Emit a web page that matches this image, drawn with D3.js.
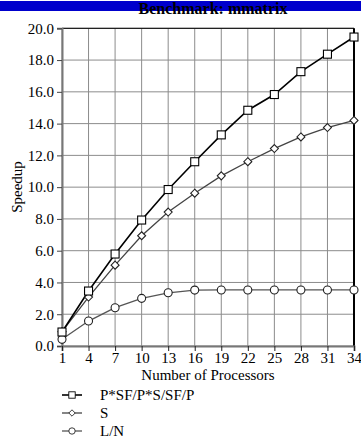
<!DOCTYPE html>
<html><head><meta charset="utf-8">
<script src="https://cdn.jsdelivr.net/npm/d3@7"></script>
<style>body{margin:0;background:#fff}svg{display:block}text{font-family:"Liberation Serif","Times New Roman",serif;fill:#000}</style>
</head><body>
<script>
const processors = [1,4,7,10,13,16,19,22,25,28,31,34];
const yTicks = [0,2,4,6,8,10,12,14,16,18,20];
const seriesNames = ["P*SF/P*S/SF/P","S","L/N"];
const valuesPSF = [0.88,3.46,5.79,7.93,9.85,11.6,13.29,14.84,15.83,17.27,18.37,19.45];
const valuesS   = [0.9,3.08,5.09,6.94,8.43,9.62,10.71,11.6,12.43,13.16,13.75,14.2];
const valuesLN  = [0.42,1.57,2.41,3.0,3.35,3.52,3.53,3.53,3.53,3.53,3.53,3.53];

const W=361,H=443;
const svg=d3.select("body").append("svg").attr("width",W).attr("height",H);
const x=d3.scaleLinear().domain([1,34]).range([62,354]);
const y=d3.scaleLinear().domain([0,20]).range([346,28.3]);

// title band
svg.append("rect").attr("x",0).attr("y",1).attr("width",W).attr("height",10).attr("fill","#0000cc");
svg.append("text").attr("x",213).attr("y",14).attr("text-anchor","middle")
  .attr("font-size",16).attr("font-weight","bold").text("Benchmark: mmatrix");

// grid
const g=svg.append("g");
g.selectAll("line.h").data(yTicks).join("line")
  .attr("x1",x(1)).attr("x2",x(34)).attr("y1",d=>y(d)).attr("y2",d=>y(d))
  .attr("stroke","#8c8c8c").attr("stroke-width",1);
g.selectAll("line.v").data(processors).join("line")
  .attr("x1",d=>x(d)).attr("x2",d=>x(d)).attr("y1",y(0)).attr("y2",y(20))
  .attr("stroke","#8c8c8c").attr("stroke-width",1);

// frame
svg.append("line").attr("x1",x(1)).attr("x2",x(34)).attr("y1",y(20)).attr("y2",y(20)).attr("stroke","#000").attr("stroke-width",1);
svg.append("line").attr("x1",x(34)).attr("x2",x(34)).attr("y1",y(20)).attr("y2",y(0)).attr("stroke","#000").attr("stroke-width",2);

// axes
const yAxis=d3.axisLeft(y).tickValues(yTicks).tickFormat(d3.format(".1f")).tickSize(5).tickPadding(3);
const ya=svg.append("g").attr("transform",`translate(${x(1)},0)`).call(yAxis);
ya.select(".domain").attr("stroke","#777").attr("stroke-width",2);
ya.selectAll(".tick line").attr("stroke","#444");
ya.selectAll("text").attr("font-size",15).attr("font-family","Liberation Serif, serif").attr("fill","#000");

const xAxis=d3.axisBottom(x).tickValues(processors).tickFormat(d3.format("d")).tickSize(5).tickPadding(1);
const xa=svg.append("g").attr("transform",`translate(0,${y(0)})`).call(xAxis);
xa.select(".domain").attr("stroke","#777").attr("stroke-width",2);
xa.selectAll(".tick line").attr("stroke","#222");
xa.selectAll("text").attr("font-size",15).attr("font-family","Liberation Serif, serif").attr("fill","#000");

svg.append("text").attr("x",208).attr("y",380).attr("text-anchor","middle").attr("font-size",15).text("Number of Processors");
svg.append("text").attr("transform","translate(22,187) rotate(-90)").attr("text-anchor","middle").attr("font-size",15).text("Speedup");

// series
const series=[
  {name:seriesNames[0],vals:valuesPSF,color:"#000",w:1.6,marker:"square"},
  {name:seriesNames[1],vals:valuesS,color:"#444",w:1.3,marker:"diamond"},
  {name:seriesNames[2],vals:valuesLN,color:"#555",w:1.3,marker:"circle"}
];
const line=d3.line().x((d,i)=>x(processors[i])).y(d=>y(d));
function marker(sel,type,color){
  if(type==="square") sel.append("rect").attr("x",-4).attr("y",-4).attr("width",8).attr("height",8).attr("fill","#fff").attr("stroke",color).attr("stroke-width",1.1);
  else if(type==="diamond") sel.append("path").attr("d","M0,-4L4,0L0,4L-4,0Z").attr("fill","#fff").attr("stroke",color).attr("stroke-width",1.1);
  else sel.append("circle").attr("r",4).attr("fill","#fff").attr("stroke",color).attr("stroke-width",1.1);
}
// draw in reverse so black on top
[...series].reverse().forEach(s=>{
  svg.append("path").attr("d",line(s.vals)).attr("fill","none").attr("stroke",s.color).attr("stroke-width",s.w);
});
[...series].reverse().forEach(s=>{
  s.vals.forEach((v,i)=>{
    const m=svg.append("g").attr("transform",`translate(${x(processors[i])},${y(v)})`);
    marker(m,s.marker,s.color==="#000"?"#000":"#222");
  });
});

// legend
series.forEach((s,i)=>{
  const ly=395+i*18;
  const lg=svg.append("g").attr("transform",`translate(0,${ly})`);
  lg.append("line").attr("x1",62).attr("x2",82).attr("y1",0).attr("y2",0).attr("stroke",s.color).attr("stroke-width",s.w);
  const m=lg.append("g").attr("transform","translate(72,0)");
  marker(m,s.marker,s.color==="#000"?"#000":"#222");
  m.selectAll("*").attr("transform","scale(0.8)");
  lg.append("text").attr("x",100).attr("y",5).attr("font-size",15).text(s.name);
});
</script>
</body></html>
